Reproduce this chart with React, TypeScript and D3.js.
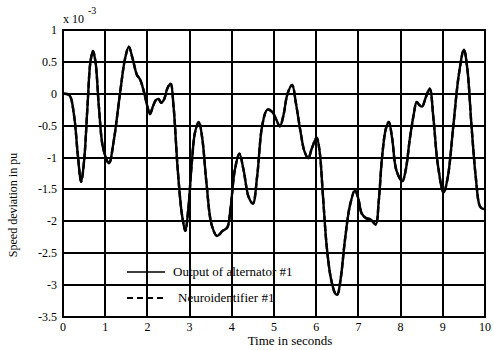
import React from "react";
import * as d3 from "d3";

const timeValues = [
  0.0, 0.15, 0.26, 0.35, 0.43, 0.5, 0.58, 0.65, 0.71, 0.77, 0.85, 0.95, 1.09, 1.2, 1.35, 1.47, 1.56, 1.65,
  1.75, 1.83, 1.91, 2.0, 2.06, 2.13, 2.2, 2.26, 2.33, 2.4, 2.47, 2.55, 2.62, 2.72, 2.82, 2.9, 2.97, 3.05,
  3.13, 3.22, 3.3, 3.4, 3.52, 3.65, 3.78, 3.89, 3.97, 4.07, 4.18, 4.28, 4.4, 4.5, 4.6, 4.72, 4.84, 4.95,
  5.05, 5.14, 5.22, 5.32, 5.43, 5.52, 5.63, 5.72, 5.81, 5.9, 6.01, 6.08, 6.16, 6.25, 6.35, 6.45, 6.5, 6.58,
  6.68, 6.8, 6.92, 7.0, 7.08, 7.18, 7.29, 7.41, 7.48, 7.56, 7.65, 7.72, 7.8, 7.9, 8.04, 8.12, 8.22, 8.31,
  8.38, 8.45, 8.51, 8.6, 8.69, 8.78, 8.88, 9.02, 9.12, 9.25, 9.38, 9.5, 9.58, 9.68, 9.78, 9.87, 9.93, 10.0,
];

const alternatorOutput = [
  0.0, -0.02, -0.33, -0.95, -1.38, -1.05, -0.2, 0.5, 0.67, 0.5, -0.2, -0.85, -1.09, -0.75, 0.0, 0.55, 0.74, 0.55,
  0.3, 0.22, 0.05, -0.2, -0.32, -0.2, -0.1, -0.08, -0.14, -0.08, 0.08, 0.16, -0.2, -1.2, -1.9, -2.15, -1.8, -1.1,
  -0.6, -0.44, -0.7, -1.4, -2.05, -2.23, -2.15, -2.1, -1.8, -1.2, -0.94, -1.2, -1.62, -1.72, -1.3, -0.5, -0.25, -0.28,
  -0.4, -0.51, -0.35, 0.0, 0.14, -0.15, -0.6, -0.9, -1.01, -0.85, -0.69, -0.9, -1.6, -2.4, -2.9, -3.13, -3.15, -2.9,
  -2.3, -1.75, -1.51, -1.65, -1.88, -1.95, -1.97, -2.05, -1.7, -1.0, -0.55, -0.44, -0.7, -1.2, -1.37, -1.2, -0.7, -0.33,
  -0.13, -0.18, -0.2, -0.05, 0.08, -0.4, -1.1, -1.55, -1.3, -0.5, 0.3, 0.69, 0.4, -0.5, -1.3, -1.75, -1.8, -1.81,
];

const neuroidentifier = [
  0.0, -0.02, -0.33, -0.95, -1.38, -1.05, -0.2, 0.5, 0.67, 0.5, -0.2, -0.85, -1.09, -0.75, 0.0, 0.55, 0.74, 0.55,
  0.3, 0.22, 0.05, -0.2, -0.32, -0.2, -0.1, -0.08, -0.14, -0.08, 0.08, 0.16, -0.2, -1.2, -1.9, -2.15, -1.8, -1.1,
  -0.6, -0.44, -0.7, -1.4, -2.05, -2.23, -2.15, -2.1, -1.8, -1.2, -0.94, -1.2, -1.62, -1.72, -1.3, -0.5, -0.25, -0.28,
  -0.4, -0.51, -0.35, 0.0, 0.14, -0.15, -0.6, -0.9, -1.01, -0.85, -0.69, -0.9, -1.6, -2.4, -2.9, -3.13, -3.15, -2.9,
  -2.3, -1.75, -1.51, -1.65, -1.88, -1.95, -1.97, -2.05, -1.7, -1.0, -0.55, -0.44, -0.7, -1.2, -1.37, -1.2, -0.7, -0.33,
  -0.13, -0.18, -0.2, -0.05, 0.08, -0.4, -1.1, -1.55, -1.3, -0.5, 0.3, 0.69, 0.4, -0.5, -1.3, -1.75, -1.8, -1.81,
];

const xTicks = [0, 1, 2, 3, 4, 5, 6, 7, 8, 9, 10];
const yTicks = [1, 0.5, 0, -0.5, -1, -1.5, -2, -2.5, -3, -3.5];
const seriesNames = ["Output of alternator #1", "Neuroidentifier #1"];

const FONT = "'Liberation Serif', 'Times New Roman', serif";

export default function App() {
  const left = 63, right = 485, top = 30, bottom = 317;
  const x = d3.scaleLinear().domain([0, 10]).range([left, right]);
  const y = d3.scaleLinear().domain([-3.5, 1]).range([bottom, top]);

  const line = d3
    .line<number>()
    .x((_, i) => x(timeValues[i]))
    .y((d) => y(d))
    .curve(d3.curveCatmullRom.alpha(0.5));

  const snap = (v: number) => Math.round(v);

  return (
    <svg
      width={493}
      height={350}
      style={{ position: "absolute", left: 0, top: 0, background: "#fff" }}
      fontFamily={FONT}
    >
      <rect x={0} y={0} width={493} height={350} fill="#fff" />
      <g stroke="#000" strokeWidth={1.6} shapeRendering="crispEdges">
        {xTicks.map((t) => (
          <line key={"gx" + t} x1={snap(x(t))} x2={snap(x(t))} y1={top} y2={bottom} />
        ))}
        {yTicks.map((t) => (
          <line key={"gy" + t} x1={left} x2={right} y1={snap(y(t))} y2={snap(y(t))} />
        ))}
        <rect x={left} y={top} width={right - left} height={bottom - top} fill="none" />
      </g>

      {xTicks.map((t) => (
        <text key={"tx" + t} x={x(t)} y={331} textAnchor="middle" fontSize={12} fill="#000">
          {t}
        </text>
      ))}
      {yTicks.map((t) => (
        <text key={"ty" + t} x={57} y={y(t) + 4} textAnchor="end" fontSize={12} fill="#000">
          {t}
        </text>
      ))}
      <text x={63} y={23} fontSize={12} fill="#000">x 10</text>
      <text x={88} y={14} fontSize={10} fill="#000">-3</text>

      <text x={290} y={345} textAnchor="middle" fontSize={13} fill="#000">
        Time in seconds
      </text>
      <text transform="translate(17,205) rotate(-90)" textAnchor="middle" fontSize={12} fill="#000">
        Speed deviation in pu
      </text>

      <path d={line(alternatorOutput) || ""} fill="none" stroke="#000" strokeWidth={2.4} strokeLinejoin="round" />
      <path
        d={line(neuroidentifier) || ""}
        fill="none"
        stroke="#000"
        strokeWidth={2.4}
        strokeDasharray="6,3"
        strokeLinejoin="round"
      />

      <line x1={127} x2={165} y1={272} y2={272} stroke="#000" strokeWidth={1.5} />
      <text x={173} y={276} fontSize={13} fill="#000">{seriesNames[0]}</text>
      <line x1={127} x2={165} y1={298} y2={298} stroke="#000" strokeWidth={2} strokeDasharray="6,4" />
      <text x={178} y={302} fontSize={13} fill="#000">{seriesNames[1]}</text>
    </svg>
  );
}
